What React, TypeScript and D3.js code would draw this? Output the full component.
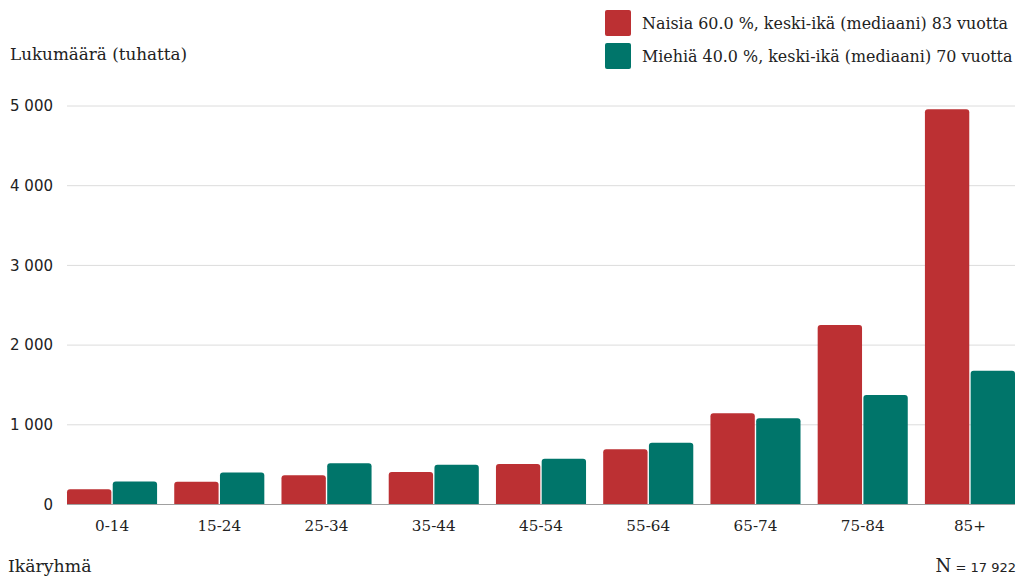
import React from "react";
import * as d3 from "d3";

const ageGroups = ["0-14", "15-24", "25-34", "35-44", "45-54", "55-64", "65-74", "75-84", "85+"];
const women = [190, 285, 366, 408, 508, 693, 1144, 2252, 4960];
const men = [290, 400, 517, 500, 575, 775, 1082, 1374, 1679];
const yTicks = [0, 1000, 2000, 3000, 4000, 5000];
const seriesNames = [
  "Naisia 60.0 %, keski-ikä (mediaani) 83 vuotta",
  "Miehiä 40.0 %, keski-ikä (mediaani) 70 vuotta",
];
const seriesColors = ["#bc3033", "#00756a"];
const totalLabel = "17 922";

const W = 1019;
const H = 576;
const SERIF = "'DejaVu Serif', serif";
const SANS = "'DejaVu Sans', sans-serif";

// bar with rounded top corners only
function topRoundedRect(x: number, y: number, w: number, h: number, r: number) {
  const rr = Math.min(r, h, w / 2);
  return `M${x},${y + h}V${y + rr}Q${x},${y} ${x + rr},${y}H${x + w - rr}Q${x + w},${y} ${x + w},${y + rr}V${y + h}Z`;
}

const fmt = (v: number) => d3.format(",")(v).replace(/,/g, " ");

export default function App() {
  const x0 = d3.scaleBand<string>().domain(ageGroups).range([67, 1015]).paddingInner(0.16).paddingOuter(0);
  const x1 = d3.scaleBand<number>().domain([0, 1]).range([0, x0.bandwidth()]).paddingInner(0.03);
  const y = d3.scaleLinear().domain([0, 5000]).range([504.5, 106]);
  const series = [women, men];

  return (
    <svg width={W} height={H} style={{ position: "absolute", left: 0, top: 0, background: "#fff" }}>
      <text x={10} y={60} fontFamily={SERIF} fontSize={16.8} fill="#222">Lukumäärä (tuhatta)</text>

      {seriesNames.map((name, i) => (
        <g key={name} transform={`translate(605, ${10 + i * 33})`}>
          <rect width={26} height={26} rx={2} fill={seriesColors[i]} />
          <text x={37} y={18.5} fontFamily={SERIF} fontSize={15.9} fill="#222">{name}</text>
        </g>
      ))}

      {yTicks.map((t) => (
        <g key={t}>
          {t > 0 && <line x1={67} x2={1015} y1={y(t)} y2={y(t)} stroke="#dcdcdc" strokeWidth={1} />}
          <text x={53} y={y(t)} dy="0.35em" textAnchor="end" fontFamily={SANS} fontSize={15} fill="#222">{fmt(t)}</text>
        </g>
      ))}

      {ageGroups.map((g, gi) => (
        <g key={g} transform={`translate(${x0(g)},0)`}>
          {series.map((vals, si) => (
            <path
              key={si}
              d={topRoundedRect(x1(si)!, y(vals[gi]), x1.bandwidth(), y(0) - y(vals[gi]), 3)}
              fill={seriesColors[si]}
            />
          ))}
          <text x={x0.bandwidth() / 2} y={531} textAnchor="middle" fontFamily={SERIF} fontSize={15.2} fill="#222">{g}</text>
        </g>
      ))}

      <line x1={67} x2={1015} y1={y(0)} y2={y(0)} stroke="#a0a0a0" strokeWidth={1} />

      <text x={8} y={572} fontFamily={SERIF} fontSize={17.3} fill="#222">Ikäryhmä</text>
      <text x={1016} y={572} textAnchor="end" fill="#222">
        <tspan fontFamily={SERIF} fontSize={18}>N</tspan>
        <tspan fontFamily={SANS} fontSize={13}> = {totalLabel}</tspan>
      </text>
    </svg>
  );
}
